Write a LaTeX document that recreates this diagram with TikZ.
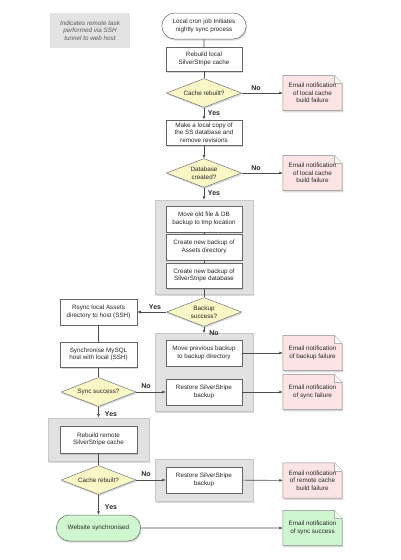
\documentclass[tikz,border=0pt]{standalone}
\usepackage{fontspec}
\setmainfont{Liberation Sans}
\usetikzlibrary{arrows.meta,shapes.geometric,shapes.misc,shadows,fit,backgrounds}

\definecolor{decisionfill}{HTML}{FAF7C6}
\definecolor{failfill}{HTML}{FCE4E4}
\definecolor{okfill}{HTML}{CFF7CF}
\definecolor{groupfill}{HTML}{E1E1E1}
\definecolor{legendfill}{HTML}{E3E3E3}

\begin{document}
\begin{tikzpicture}[x=1pt, y=-1pt,
	every node/.style={font=\fontsize{6.3}{7.6}\selectfont, text=black!85},
	shade/.style={drop shadow={shadow xshift=0.8pt, shadow yshift=-1.6pt, opacity=0.3}},
	line/.style={draw=black!70, line width=0.6pt},
	arrow/.style={line, -{Latex[length=3.5pt, width=3pt]}},
	stepbox/.style={draw=black!60, line width=0.5pt, fill=white, shade, align=center, minimum width=76, minimum height=25.5, inner sep=1pt},
	decision/.style={diamond, aspect=2.6, draw=black!55, line width=0.5pt, fill=decisionfill, shade, align=center, minimum width=75, minimum height=29, inner sep=0pt},
	terminal/.style={rounded rectangle, draw=black!60, line width=0.5pt, shade, align=center, minimum width=91, minimum height=26},
	mailnote/.style={align=center, minimum width=59, minimum height=35, inner sep=0pt},
	notepath/.style={draw=black!45, line width=0.5pt, shade},
	group/.style={draw=black!22, line width=0.5pt, fill=groupfill, shade},
	answer/.style={font=\fontsize{7}{8}\selectfont\bfseries}
]
	\useasboundingbox (0,0) rectangle (400,560);

	\node[fill=legendfill, align=center, minimum width=80, minimum height=35, font=\fontsize{6.3}{7.6}\selectfont\itshape, text=black!65] at (90,30.5) (legend) {Indicates remote task\\performed via SSH\\tunnel to web host};

	% local part
	\node[terminal, fill=white] at (204,26) (cron) {Local cron job Initiates\\nightly sync process};
	\node[stepbox, minimum height=24] at (204,59) (rebuild-local) {Rebuild local\\SilverStripe cache};
	\node[decision] at (204,93) (cache-ok) {Cache rebuilt?};
	\node[mailnote] at (312.5,93) (mail-cache) {Email notification\\of local cache\\build failure};
	\node[stepbox] at (204,132.5) (local-copy) {Make a local copy of\\the SS database and\\remove revisions};
	\node[decision] at (204,173) (db-ok) {Database\\created?};
	\node[mailnote] at (312.5,173) (mail-db) {Email notification\\of local cache\\build failure};

	\node[stepbox] at (204,219) (move-old) {Move old file \& DB\\backup to tmp location};
	\node[stepbox] at (204,247) (assets-backup) {Create new backup of\\Assets directory};
	\node[stepbox] at (204,275.5) (db-backup) {Create new backup of\\SilverStripe database};
	\node[decision] at (204,312) (backup-ok) {Backup\\success?};

	\node[stepbox] at (204,353) (move-prev) {Move previous backup\\to backup directory};
	\node[stepbox] at (204,392) (restore-local) {Restore SilverStripe\\backup};
	\node[mailnote] at (312.5,353) (mail-backup) {Email notification\\of backup failure};
	\node[mailnote] at (312.5,392) (mail-sync) {Email notification\\of sync failure};

	% remote part
	\node[stepbox, minimum width=77] at (98.5,312) (rsync) {Rsync local Assets\\directory to host (SSH)};
	\node[stepbox, minimum width=77] at (98.5,354.5) (sync-mysql) {Synchronise MySQL\\host with local (SSH)};
	\node[decision] at (98.5,392) (sync-ok) {Sync success?};
	\node[stepbox, minimum width=77, minimum height=27] at (98.5,439.5) (rebuild-remote) {Rebuild remote\\SilverStripe cache};
	\node[decision] at (98.5,480) (remote-ok) {Cache rebuilt?};
	\node[stepbox] at (204,480) (restore-remote) {Restore SilverStripe\\backup};
	\node[mailnote] at (312.5,480.5) (mail-remote) {Email notification\\of remote cache\\build failure};
	\node[terminal, fill=okfill] at (98.5,528) (website) {Website synchronised};
	\node[mailnote] at (312.5,528) (mail-success) {Email notification\\of sync success};

	\begin{scope}[on background layer]
		\node[group, fit=(move-old)(db-backup), inner xsep=11pt, inner ysep=6pt] (backup-group) {};
		\node[group, fit=(move-prev)(restore-local), inner xsep=11pt, inner ysep=6.5pt] (restore-group) {};
		\node[group, fit=(rebuild-remote), inner xsep=11.5pt, inner ysep=8pt] (remote-group) {};
		\node[group, fit=(restore-remote), inner xsep=11pt, inner ysep=8pt] (restore-remote-group) {};
		\foreach \m/\c in {mail-cache/failfill, mail-db/failfill, mail-backup/failfill, mail-sync/failfill, mail-remote/failfill, mail-success/okfill} {
			\draw[notepath, fill=\c] (\m.south west) -- (\m.south east) -- ([yshift=-8pt]\m.north east) -- ([xshift=-8pt]\m.north east) -- (\m.north west) -- cycle;
			\draw[draw=black!30, line width=0.4pt, fill=white!70!\c] ([xshift=-8pt]\m.north east) -- ([xshift=-8pt, yshift=-8pt]\m.north east) -- ([yshift=-8pt]\m.north east);
		}
	\end{scope}

	% connectors
	\draw[line] (cron) -- (rebuild-local);
	\draw[line] (rebuild-local) -- (cache-ok);
	\draw[arrow] (cache-ok) -- (local-copy);
	\draw[arrow] (cache-ok) -- (mail-cache);
	\node[answer] at (256,88) {No};
	\node[answer] at (214,113) {Yes};

	\draw[arrow] (local-copy) -- (db-ok);
	\draw[arrow] (db-ok) -- (mail-db);
	\draw[arrow] (db-ok) -- (backup-group);
	\node[answer] at (256,168) {No};
	\node[answer] at (214,193) {Yes};

	\draw[line] (move-old) -- (assets-backup);
	\draw[line] (assets-backup) -- (db-backup);
	\draw[line] (db-backup) -- (backup-ok);

	\draw[arrow] (backup-ok) -- (rsync);
	\draw[arrow] (backup-ok) -- (restore-group);
	\node[answer] at (155,307.5) {Yes};
	\node[answer] at (214,333) {No};
	\draw[arrow] (move-prev) -- (mail-backup);
	\draw[arrow] (restore-local) -- (mail-sync);

	\draw[line] (rsync) -- (sync-mysql);
	\draw[line] (sync-mysql) -- (sync-ok);
	\draw[arrow] (sync-ok) -- (restore-local);
	\draw[arrow] (sync-ok) -- (remote-group);
	\node[answer] at (146,386) {No};
	\node[answer] at (111,414) {Yes};

	\draw[line] (rebuild-remote) -- (remote-ok);
	\draw[arrow] (remote-ok) -- (restore-remote);
	\draw[arrow] (restore-remote) -- (mail-remote);
	\node[answer] at (146,474.5) {No};

	\draw[arrow] (remote-ok) -- (website);
	\node[answer] at (111,507) {Yes};
	\draw[arrow] (website) -- (mail-success);
\end{tikzpicture}
\end{document}
